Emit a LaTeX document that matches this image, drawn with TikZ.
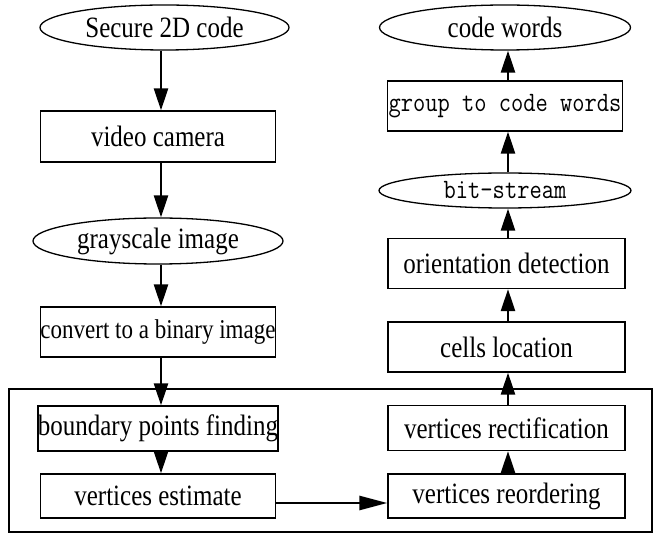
\documentclass[tikz,border=0pt]{standalone}
\usepackage{fontspec}
\usepackage{graphicx}
\setmainfont{Liberation Serif}
\usetikzlibrary{shapes.geometric,arrows.meta}
\newcommand\vst[1]{\scalebox{1}[1.18]{#1}}
\begin{document}
\begin{tikzpicture}[x=1pt,y=-1pt,
  txt/.style={font=\fontsize{25}{28}\selectfont},
  mono/.style={font=\fontsize{23.8}{26}\selectfont\ttfamily},
  box/.style={draw, line width=1.3pt, rectangle, inner sep=0pt, minimum width=235pt, txt},
  oval/.style={draw, line width=1.3pt, ellipse, inner sep=0pt, txt},
  arr/.style={line width=2.6pt, -{Triangle[length=22pt,width=14pt]}},
  frame/.style={draw, line width=1.3pt}
]
\useasboundingbox (0,0) rectangle (656,534);
% frame
\draw[frame] (9,389) rectangle (652,532);
% left column
\node[oval, minimum width=249pt, minimum height=45pt] (sec) at (164.5,27.5) {\vst{Secure 2D code}};
\node[box, minimum height=51pt] (cam) at (158,136.5) {\vst{video camera}};
\node[oval, minimum width=250pt, minimum height=46pt] (gray) at (158,241) {\vst{grayscale image}};
\node[box, minimum height=50pt, font=\fontsize{23}{26}\selectfont] (conv) at (158,332) {\vst{convert to a binary image}};
\node[box, minimum height=45pt] (bound) at (158,428.5) {\vst{boundary points finding}};
\node[box, minimum height=44pt] (vest) at (158,496) {\vst{vertices estimate}};
% right column
\node[box, minimum width=237pt, minimum height=44pt] (reord) at (506.5,496) {\vst{vertices reordering}};
\node[box, minimum width=237pt, minimum height=45pt] (rect) at (506.5,428) {\vst{vertices rectification}};
\node[box, minimum width=237pt, minimum height=50pt] (cells) at (506.5,347) {\vst{cells location}};
\node[box, minimum width=237pt, minimum height=50pt] (orient) at (506.5,263.5) {\vst{orientation detection}};
\node[oval, minimum width=252pt, minimum height=35pt, mono] (bit) at (505,190.5) {\vst{bit-stream}};
\node[box, minimum height=50pt, mono] (group) at (505,106) {\vst{group to code words}};
\node[oval, minimum width=251pt, minimum height=45pt] (words) at (505,27.5) {\vst{code words}};
% axes for connectors
\coordinate (lx) at (161,0);
\coordinate (rx) at (508,0);
\coordinate (hy) at (0,503);
% connectors
\draw[arr] (sec.south -| lx) -- (cam.north -| lx);
\draw[arr] (cam.south -| lx) -- (gray.north -| lx);
\draw[arr] (gray.south -| lx) -- (conv.north -| lx);
\draw[arr] (conv.south -| lx) -- (bound.north -| lx);
\draw[arr] (bound.south -| lx) -- (vest.north -| lx);
\draw[arr, -{Triangle[length=28pt,width=14pt]}] (vest.east |- hy) -- (reord.west |- hy);
\draw[arr] (reord.north -| rx) -- (rect.south -| rx);
\draw[arr] (rect.north -| rx) -- (cells.south -| rx);
\draw[arr] (cells.north -| rx) -- (orient.south -| rx);
\draw[arr] (orient.north -| rx) -- (bit.south -| rx);
\draw[arr] (bit.north -| rx) -- (group.south -| rx);
\draw[arr] (group.north -| rx) -- (words.south -| rx);
\end{tikzpicture}
\end{document}
